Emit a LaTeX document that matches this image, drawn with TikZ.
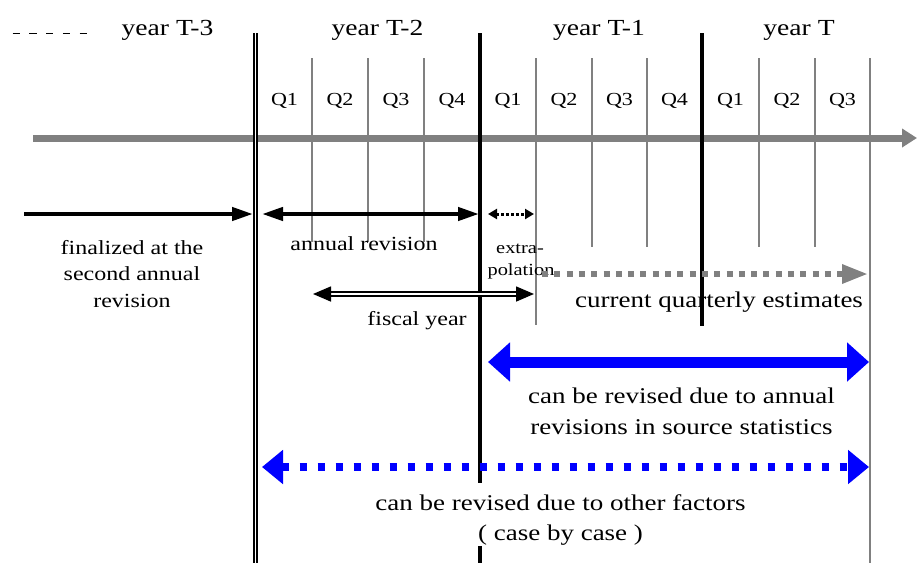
\documentclass[tikz,border=0pt]{standalone}
\usepackage{fontspec}
\setmainfont[FakeStretch=1.2]{Liberation Serif}
\usetikzlibrary{arrows.meta}
\begin{document}
\begin{tikzpicture}[x=1pt,y=-1pt,
  yr/.style={anchor=base,inner sep=0pt,font=\fontsize{23}{27}\selectfont},
  ql/.style={anchor=base,inner sep=0pt,font=\fontsize{18.4}{22}\selectfont},
  lbl/.style={anchor=base,inner sep=0pt,font=\fontsize{20}{24}\selectfont},
  sm/.style={anchor=base,inner sep=0pt,font=\fontsize{17}{20}\selectfont},
  big/.style={anchor=base,inner sep=0pt,font=\fontsize{22.5}{27}\selectfont},
  qline/.style={draw=gray,line width=2.3pt},
  yline/.style={draw=black,line width=3.3pt},
  hdA/.style={line width=4.2pt},
  tipA/.tip={Triangle[length=21pt,width=13pt]},
  tipB/.tip={Triangle[length=18pt,width=15pt]},
  tipC/.tip={Triangle[length=9pt,width=10pt]},
  tipD/.tip={Triangle[length=26pt,width=18pt]},
  tipE/.tip={Triangle[length=22pt,width=38pt]},
  tipF/.tip={Triangle[length=21pt,width=33pt]},
  tipG/.tip={Triangle[length=15pt,width=18pt]},
]
\useasboundingbox (0,0) rectangle (917,563);

% main time axis
\coordinate (axS) at (33,138);
\coordinate (axE) at (917,138);
\draw[gray,line width=7pt,-tipG] (axS) -- (axE);

% leading dashes
\draw[line width=1.4pt,dash pattern=on 7.3pt off 9.4pt] (12.7,33.3) -- (88,33.3);

% year boundaries
\draw[line width=1.6pt,double,double distance=1.8pt] (255.5,33) -- (255.5,563);
\draw[yline] (480,33) -- (480,483);
\draw[yline] (480,546) -- (480,563);
\draw[yline] (702,33) -- (702,326);

% quarter lines
\foreach \x in {312,368,424} \draw[qline] (\x,58) -- (\x,242);
\foreach \x in {592,647,759,815} \draw[qline] (\x,58) -- (\x,247);
\draw[qline] (536,58) -- (536,325);
\draw[qline,line width=2.7pt] (870,58) -- (870,563);

% year labels
\node[yr] (yT3) at (167.5,35) {year T-3};
\node[yr] (yT2) at (377.5,35) {year T-2};
\node[yr] (yT1) at (599,35) {year T-1};
\node[yr] (yT0) at (799,35) {year T};

% quarter labels
\foreach \x/\q/\n in {284.5/1/a,340/2/b,396/3/c,452/4/d,508/1/e,564/2/f,619.5/3/g,674.5/4/h,730.5/1/i,787/2/j,842.5/3/k}
  \node[ql] (q\n) at (\x,105) {Q\q};

% finalized arrow
\coordinate (finS) at (24,214);
\coordinate (finE) at (253,214);
\draw[hdA,-tipA] (finS) -- (finE);
\node[lbl] (fin1) at (132,254) {finalized at the};
\node[lbl] (fin2) at (132,280.5) {second annual};
\node[lbl] (fin3) at (132,307) {revision};

% annual revision arrow
\coordinate (arS) at (262,214);
\coordinate (arE) at (479,214);
\draw[hdA,tipA-tipA] (arS) -- (arE);
\node[lbl] (arl) at (364,250) {annual revision};

% extrapolation arrow
\coordinate (exS) at (488,214);
\coordinate (exE) at (534,214);
\draw[line width=3pt,dash pattern=on 3pt off 2pt,tipC-tipC] (exS) -- (exE);
\node[sm] (ex1) at (520,253) {extra-};
\node[sm] (ex2) at (521,275) {polation};

% fiscal year arrow
\coordinate (fyS) at (313,294);
\coordinate (fyE) at (534,294);
\draw[line width=1.6pt,double,double distance=2pt,tipB-tipB] (fyS) -- (fyE);
\node[lbl] (fyl) at (417,325) {fiscal year};

% current quarterly estimates
\coordinate (cqS) at (542,274);
\coordinate (cqE) at (868,274);
\draw[gray,line width=6pt,dash pattern=on 6pt off 6.3pt,-tipD] (cqS) -- (cqE);
\node[big] (cql) at (719,307) {current quarterly estimates};

% revised due to annual revisions
\coordinate (rvS) at (488,362);
\coordinate (rvE) at (869,362);
\draw[blue,line width=11pt,tipE-tipE] (rvS) -- (rvE);
\node[big] (rv1) at (681.5,403) {can be revised due to annual};
\node[big] (rv2) at (681.5,434) {revisions in source statistics};

% revised due to other factors
\coordinate (otS) at (262,467);
\coordinate (otE) at (869,467);
\draw[blue,line width=8pt,dash pattern=on 7pt off 11pt,tipF-tipF] (otS) -- (otE);
\node[big] (ot1) at (560.5,510) {can be revised due to other factors};
\node[big] (ot2) at (560.5,540) {( case by case )};
\end{tikzpicture}
\end{document}
